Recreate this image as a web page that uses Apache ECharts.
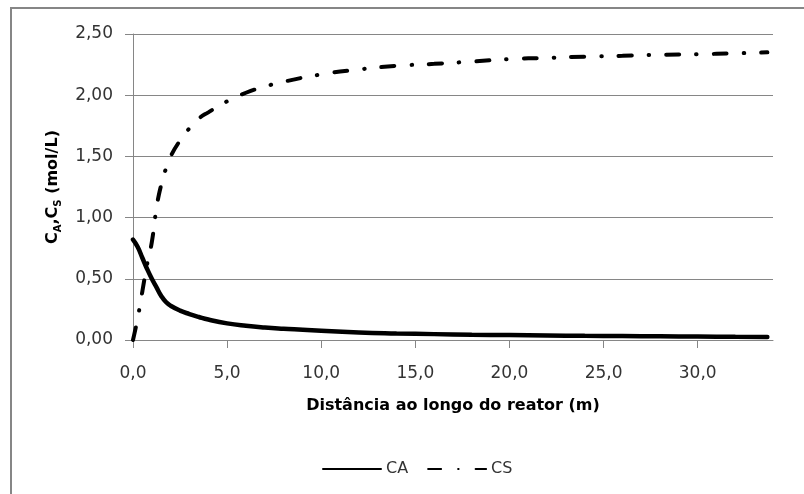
<!DOCTYPE html>
<html>
<head>
<meta charset="utf-8">
<script src="https://cdn.jsdelivr.net/npm/echarts@6/dist/echarts.min.js"></script>
<style>
  html, body { margin: 0; padding: 0; background: #fff; }
  #chart { width: 804px; height: 494px; }
</style>
</head>
<body>
<div id="chart"></div>
<script>
// distance along the reactor (m)
const distance = [0, 0.25, 0.5, 0.75, 1.0, 1.25, 1.5, 1.75, 2.0, 2.5, 3, 3.5, 4, 5, 6, 7, 8,
  10, 12, 14, 16, 18, 20, 22, 24, 26, 28, 30, 32, 33.7];
// concentrations (mol/L)
const caValues = [0.82, 0.76, 0.67, 0.58, 0.50, 0.43, 0.36, 0.31, 0.28, 0.24, 0.212, 0.188, 0.167,
  0.136, 0.116, 0.102, 0.092, 0.075, 0.062, 0.054, 0.048, 0.043, 0.04, 0.037, 0.034, 0.032,
  0.03, 0.028, 0.026, 0.025];
const csValues = [0, 0.18, 0.40, 0.62, 0.80, 1.08, 1.27, 1.40, 1.50, 1.63, 1.73, 1.81, 1.86,
  1.95, 2.02, 2.07, 2.11, 2.17, 2.21, 2.24, 2.256, 2.275, 2.295, 2.305, 2.315, 2.322,
  2.33, 2.335, 2.342, 2.35];
const seriesNames = ['CA', 'CS'];

const font = '"DejaVu Sans", Verdana, sans-serif';
const grey = '#868686';
const textGrey = '#333';

function pairs(ys) {
  return distance.map((x, i) => [x, ys[i]]);
}

const chart = echarts.init(document.getElementById('chart'), null, { renderer: 'canvas' });

const option = {
  animation: false,
  backgroundColor: '#fff',
  textStyle: { fontFamily: font },
  grid: { left: 133, top: 34, right: 31, bottom: 154, containLabel: false },
  graphic: [{
    type: 'polyline',
    shape: { points: [[11, 494], [11, 8], [804, 8]] },
    style: { stroke: grey, lineWidth: 2, fill: null }
  }],
  legend: {
    left: 317,
    top: 456,
    itemWidth: 58,
    itemHeight: 12,
    itemGap: 19,
    itemStyle: { opacity: 0 },
    textStyle: { fontFamily: font, fontSize: 16, color: textGrey },
    data: seriesNames
  },
  xAxis: {
    type: 'value',
    min: 0,
    max: 34,
    interval: 5,
    name: 'Distância ao longo do reator (m)',
    nameLocation: 'middle',
    nameGap: 58,
    nameTextStyle: { fontFamily: font, fontSize: 16, fontWeight: 'bold', color: '#000' },
    axisLine: { lineStyle: { color: grey, width: 1 } },
    axisTick: { show: true, length: 8, lineStyle: { color: grey } },
    splitLine: { show: false },
    axisLabel: {
      margin: 25,
      fontSize: 17,
      color: textGrey,
      showMaxLabel: false,
      formatter: v => (v % 5 === 0 ? v.toFixed(1).replace('.', ',') : '')
    }
  },
  yAxis: {
    type: 'value',
    min: 0,
    max: 2.5,
    interval: 0.5,
    name: '{m|C}{s|A}{m|,C}{s|S}{m| (mol/L)}',
    nameLocation: 'middle',
    nameRotate: 90,
    nameGap: 70,
    nameTextStyle: {
      fontFamily: font,
      fontSize: 16,
      fontWeight: 'bold',
      color: '#000',
      rich: {
        m: { fontFamily: font, fontSize: 16, fontWeight: 'bold', color: '#000', lineHeight: 20, verticalAlign: 'middle' },
        s: { fontFamily: font, fontSize: 10, fontWeight: 'bold', color: '#000', lineHeight: 10, verticalAlign: 'bottom' }
      }
    },
    axisLine: { show: true, lineStyle: { color: grey, width: 1 } },
    axisTick: { show: true, length: 8, inside: false, lineStyle: { color: grey } },
    splitLine: { show: true, lineStyle: { color: grey, width: 1 } },
    axisLabel: {
      margin: 20,
      fontSize: 17,
      color: textGrey,
      formatter: v => v.toFixed(2).replace('.', ',')
    }
  },
  series: [{
    name: seriesNames[0],
    type: 'line',
    data: pairs(caValues),
    smooth: true,
    showSymbol: false,
    symbol: 'none',
    symbolSize: 0,
    lineStyle: { color: '#000', width: 4.5, cap: 'round' },
    itemStyle: { color: '#000' }
  }, {
    name: seriesNames[1],
    type: 'line',
    data: pairs(csValues),
    smooth: true,
    showSymbol: false,
    symbol: 'none',
    symbolSize: 0,
    lineStyle: { color: '#000', width: 4, cap: 'round', type: [13, 17, 0.5, 17] },
    itemStyle: { color: '#000' }
  }]
};

chart.setOption(option);
</script>
</body>
</html>
